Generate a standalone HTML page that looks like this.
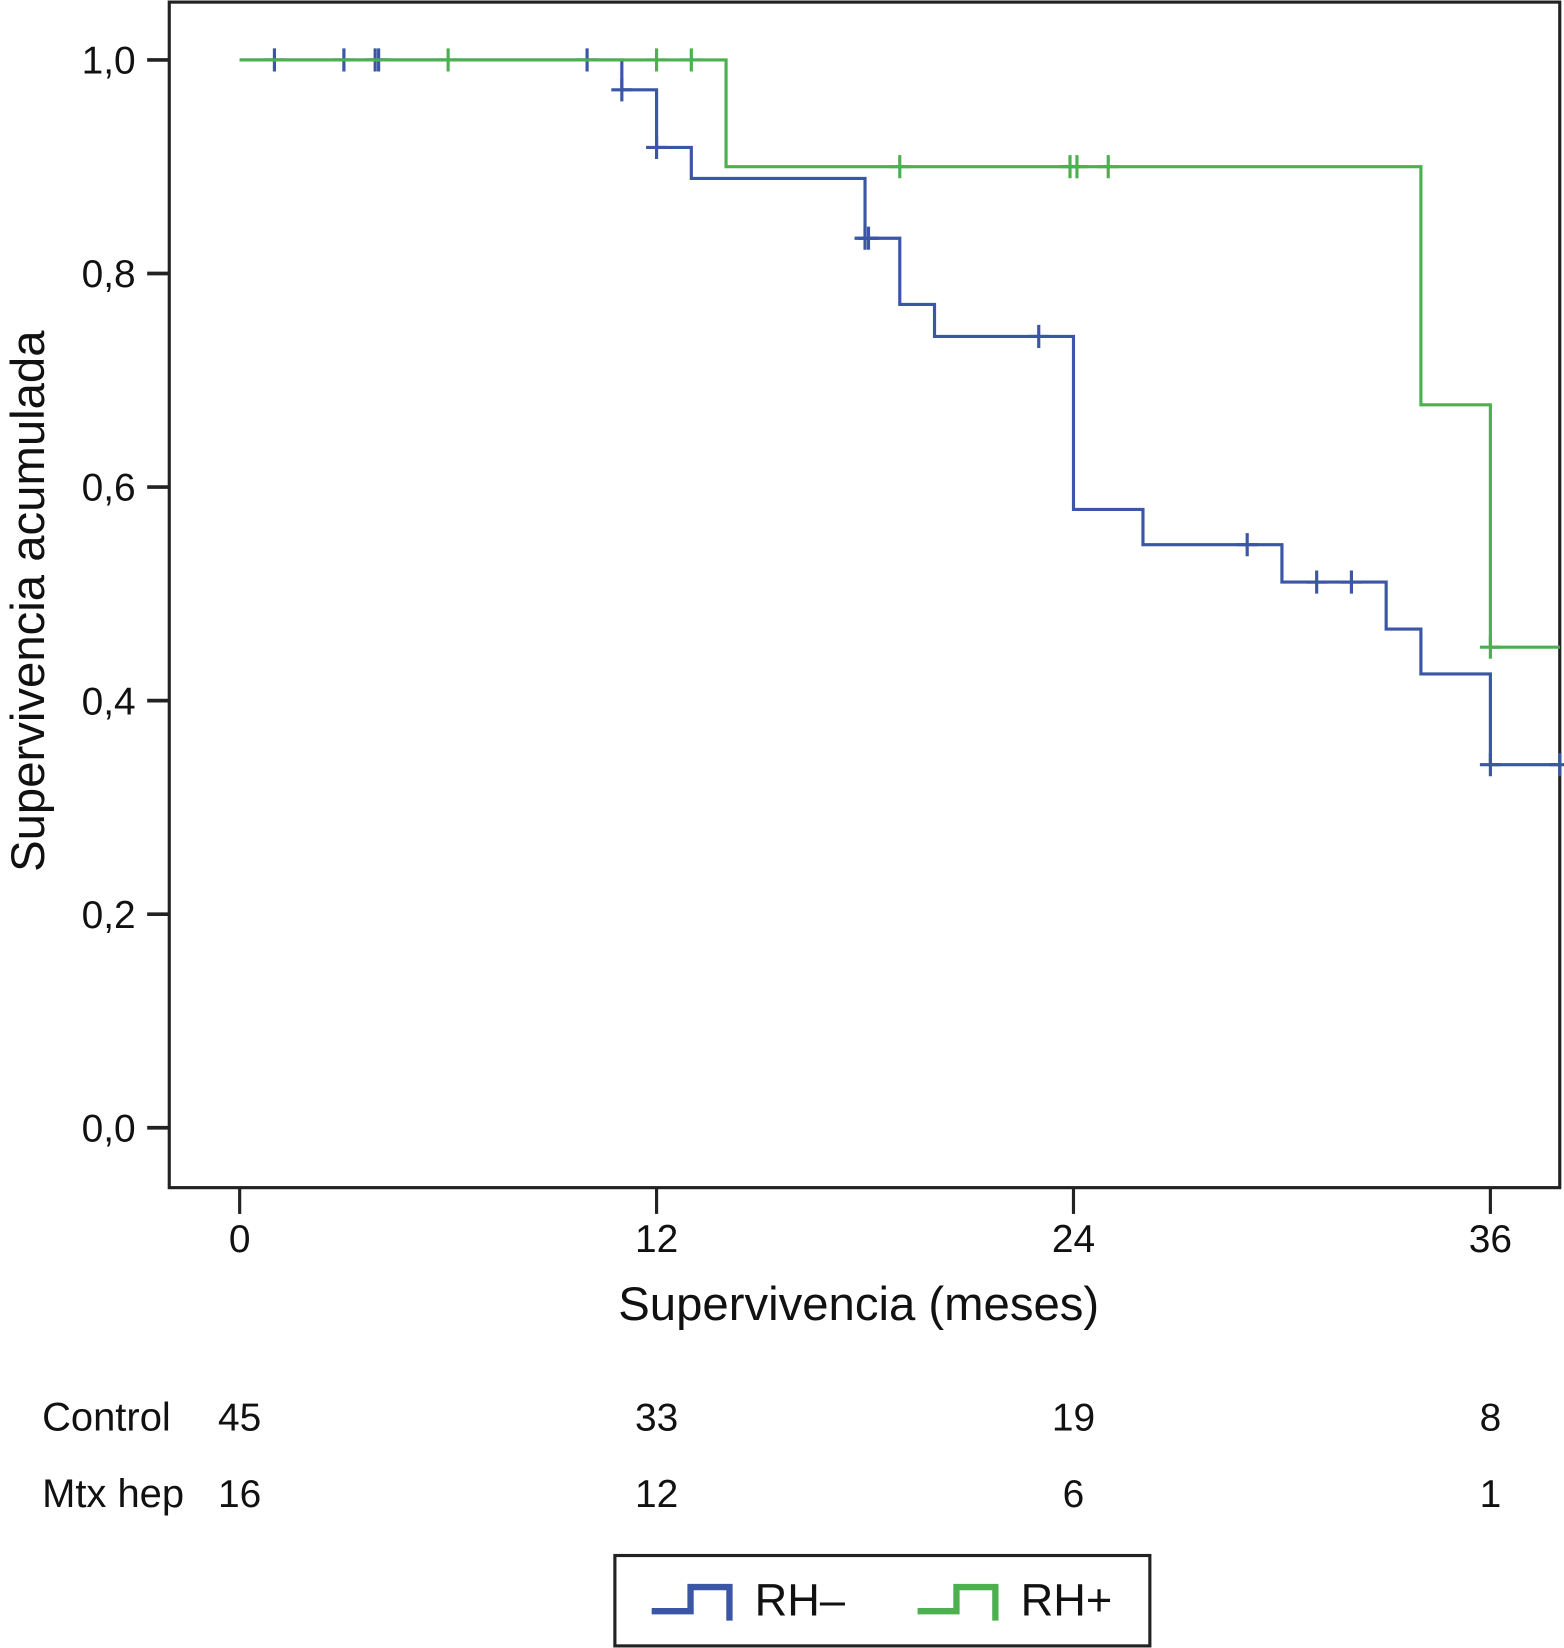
<!DOCTYPE html>
<html><head><meta charset="utf-8"><style>
html,body{margin:0;padding:0;background:#fff;}
svg{display:block;font-family:"Liberation Sans",Arial,sans-serif;}
</style></head><body>
<svg id="chart" width="1564" height="1648" viewBox="0 0 1488 1568" xmlns="http://www.w3.org/2000/svg">
<rect x="0" y="0" width="1488" height="1568" fill="#fff"/>
<g id="plot"></g>
</svg>
<script>
const xTicks = [0, 12, 24, 36];
const yTicks = [0, 0.2, 0.4, 0.6, 0.8, 1.0];
const yTickLabels = ["0,0", "0,2", "0,4", "0,6", "0,8", "1,0"];
// RH- (blue) step times and survival values after step
const blueTimes = [0, 11, 12, 13, 18, 19, 20, 24, 26, 30, 33, 34, 36];
const blueSurv = [1.0, 0.972, 0.918, 0.889, 0.833, 0.771, 0.741, 0.579, 0.546, 0.511, 0.467, 0.425, 0.340];
const blueCensT = [1, 3, 4, 3.9, 10, 11, 12, 18, 18.1, 23, 29, 31, 32, 36, 38];
const greenTimes = [0, 14, 34, 36];
const greenSurv = [1.0, 0.90, 0.677, 0.45];
const greenCensT = [6, 12, 13, 19, 23.9, 24.1, 25, 36];
const riskControl = [45, 33, 19, 8];
const riskMtx = [16, 12, 6, 1];
const xEnd = 38;

const NS = "http://www.w3.org/2000/svg";
const g = document.getElementById('plot');
const L = 161, R = 1484, T = 2, B = 1130;
const sx = t => 228 + (1418 - 228) * t / 36;
const sy = v => 1073 - (1073 - 57) * v;
function el(tag, attrs, parent) {
  const e = document.createElementNS(NS, tag);
  for (const k in attrs) e.setAttribute(k, attrs[k]);
  (parent || g).appendChild(e);
  return e;
}
function survAt(times, surv, t) {
  let v = surv[0];
  for (let i = 0; i < times.length; i++) if (times[i] <= t) v = surv[i];
  return v;
}
function stepPath(times, surv) {
  let d = "M" + sx(times[0]) + "," + sy(surv[0]);
  for (let i = 1; i < times.length; i++) {
    d += " H" + sx(times[i]) + " V" + sy(surv[i]);
  }
  d += " H" + sx(xEnd);
  return d;
}
const frame = el('rect', {x: L, y: T, width: R - L, height: B - T, fill: 'none', stroke: '#222', 'stroke-width': 3});


yTicks.forEach((v, i) => {
  const tk = el('line', {x1: 140, x2: L, y1: sy(v), y2: sy(v), stroke: '#222', 'stroke-width': 3.5});
  
  
  const tx = el('text', {x: 129, y: sy(v) + 13, 'text-anchor': 'end', 'font-size': 37, fill: '#111'});
  tx.textContent = yTickLabels[i];
  
  
});
xTicks.forEach(t => {
  const tk = el('line', {x1: sx(t), x2: sx(t), y1: B, y2: 1155, stroke: '#222', 'stroke-width': 3});
  
  
  const tx = el('text', {x: sx(t), y: 1191, 'text-anchor': 'middle', 'font-size': 37, fill: '#111'});
  tx.textContent = t;
  
  
});
const xt = el('text', {x: 817, y: 1256, 'text-anchor': 'middle', 'font-size': 45, fill: '#111'});
xt.textContent = 'Supervivencia (meses)';


const yt = el('text', {x: 0, y: 0, transform: 'translate(42,572) rotate(-90)', 'text-anchor': 'middle', 'font-size': 45, fill: '#111'});
yt.textContent = 'Supervivencia acumulada';


function drawSeries(times, surv, cens, color, name) {
  const p = el('path', {d: stepPath(times, surv), fill: 'none', stroke: color, 'stroke-width': 3});
  
  
  cens.forEach(t => {
    const x = sx(t), y = sy(survAt(times, surv, t));
    const c = el('path', {d: `M${x - 10},${y} H${x + 10} M${x},${y - 11} V${y + 11}`, stroke: color, 'stroke-width': 3, fill: 'none'});
    
    
  });
}
drawSeries(blueTimes, blueSurv, blueCensT, '#3a56a5', 'rh-neg');
drawSeries(greenTimes, greenSurv, greenCensT, '#4cb050', 'rh-pos');
[['Control', riskControl, 1361], ['Mtx hep', riskMtx, 1434]].forEach(([lab, arr, y]) => {
  const lt = el('text', {x: 40, y: y, 'font-size': 38, fill: '#111'});
  lt.textContent = lab;
  
  
  arr.forEach((n, i) => {
    const t = el('text', {x: sx(xTicks[i]), y: y, 'text-anchor': 'middle', 'font-size': 37, fill: '#111'});
    t.textContent = n;
    
    
  });
});
const lg = el('rect', {x: 585, y: 1480, width: 509, height: 86, fill: '#fff', stroke: '#222', 'stroke-width': 3});


[['#3a56a5', 620, 'RH\u2013'], ['#4cb050', 873, 'RH+']].forEach(([c, x, lab]) => {
  const s = el('path', {d: `M${x},1533 H${x + 37} V1510 H${x + 74} V1542`, fill: 'none', stroke: c, 'stroke-width': 6});
  
  
  const t = el('text', {x: x + 98, y: 1537, 'font-size': 43, fill: '#111'});
  t.textContent = lab;
  
  
});
</script>
</body></html>
